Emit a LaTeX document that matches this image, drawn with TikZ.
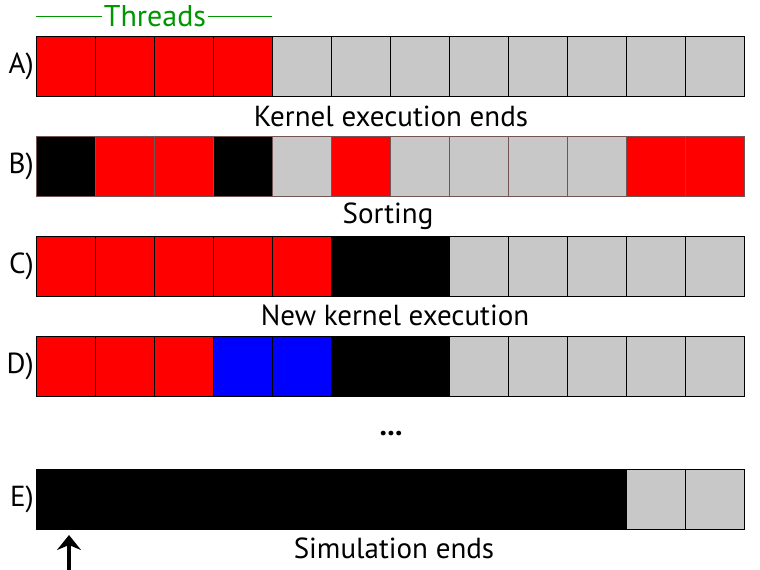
\documentclass[tikz,border=0pt]{standalone}
\usepackage{fontspec}
\setmainfont{PT Sans}
\usetikzlibrary{arrows.meta,positioning}
\definecolor{thrgreen}{RGB}{0,150,0}
\definecolor{cellred}{RGB}{255,0,0}
\definecolor{cellgray}{RGB}{200,200,200}
\definecolor{cellblue}{RGB}{0,0,255}
\definecolor{sortedge}{RGB}{115,85,85}
% one row of twelve thread cells: [cell options]{row}{centre y}{fills}
\newcommand{\cellrow}[4][]{%
  \foreach \c [count=\i from 0] in {#4}
    \node[cell, fill=\c, #1] (#2\i) at ({65.5+59*\i}, #3) {};
  \node[rowlab, left=2pt of #20] (lab#2) {#2)};}
\tikzset{
  cell/.style={draw, line width=0.8pt, minimum width=59pt, minimum height=60pt,
    inner sep=0pt, outer sep=0pt},
  rowlab/.style={font=\fontsize{29}{32}\selectfont, inner sep=0pt},
  caption/.style={font=\fontsize{29}{32}\selectfont, anchor=base},
  thr/.style={thrgreen, line width=0.8pt},
  endarr/.style={-{Stealth[length=15pt, width=24pt, inset=5pt]}, line width=3.8pt},
}
\begin{document}
\begin{tikzpicture}[x=1pt,y=-1pt]
\useasboundingbox (0,0) rectangle (760,570);
\cellrow{A}{66}{cellred,cellred,cellred,cellred,cellgray,cellgray,cellgray,cellgray,cellgray,cellgray,cellgray,cellgray}
\cellrow[draw=sortedge]{B}{166}{black,cellred,cellred,black,cellgray,cellred,cellgray,cellgray,cellgray,cellgray,cellred,cellred}
\cellrow{C}{266}{cellred,cellred,cellred,cellred,cellred,black,black,cellgray,cellgray,cellgray,cellgray,cellgray}
\cellrow{D}{366}{cellred,cellred,cellred,cellblue,cellblue,black,black,cellgray,cellgray,cellgray,cellgray,cellgray}
\cellrow{E}{499}{black,black,black,black,black,black,black,black,black,black,cellgray,cellgray}

% threads brace
\node[font=\fontsize{30}{33}\selectfont, text=thrgreen, anchor=base, inner sep=2pt] (threads) at (155,27) {Threads};
\draw[thr] (A0.west |- threads.center) -- (threads.west);
\draw[thr] (threads.east) -- (A3.east |- threads.center);

\node[caption] (kernend) at (391,126) {Kernel execution ends};
\node[caption] (sorting) at (388,223) {Sorting};
\node[caption] (newkern) at (395,325) {New kernel execution};
\node[font=\fontsize{30}{33}\selectfont\bfseries] (dots) at (391,434) {...};
\node[caption] (simend) at (394,558) {Simulation ends};

\coordinate (arrtail) at (69,570);
\coordinate (arrtip) at (69,535);
\draw[endarr] (arrtail) -- (arrtip);
\end{tikzpicture}
\end{document}
